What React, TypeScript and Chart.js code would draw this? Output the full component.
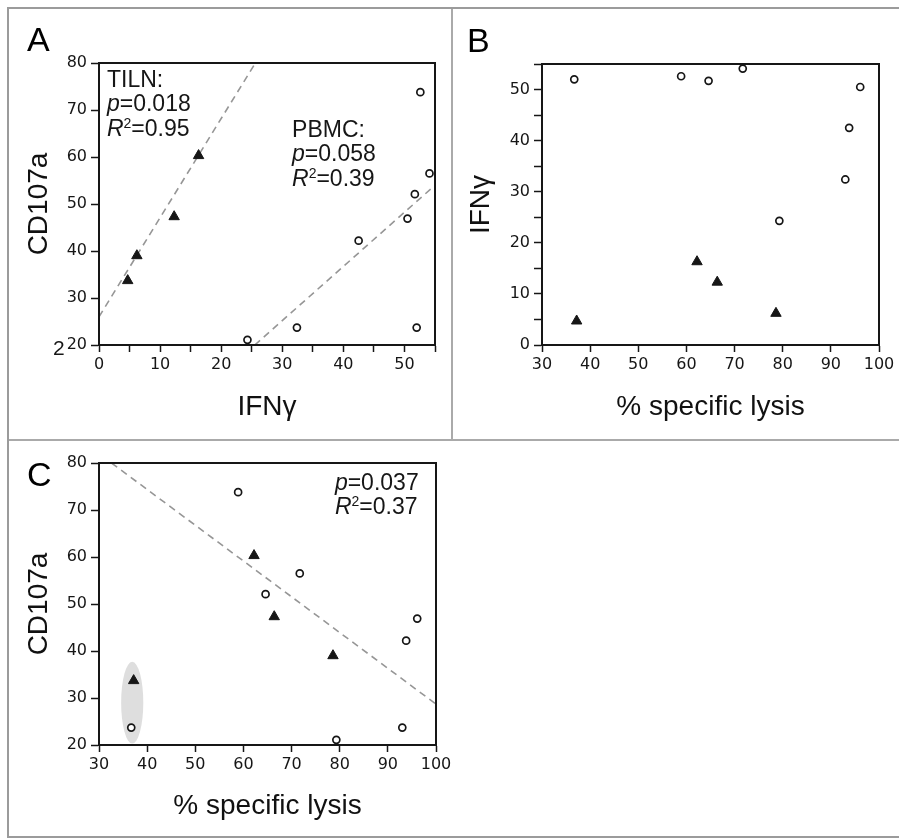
import React, { useEffect, useRef } from 'react';
import { Chart, registerables } from 'chart.js';
Chart.register(...registerables);

// ---------- data ----------
// TILN samples (filled triangles)
const tilnLysis = [37.2, 62.2, 66.4, 78.6];
const tilnIFNg = [4.7, 16.3, 12.3, 6.2];
const tilnCD107a = [33.7, 60.3, 47.3, 39.0];
// PBMC samples (open circles)
const pbmcLysis = [36.7, 58.9, 64.6, 71.7, 79.3, 93.0, 93.8, 96.1];
const pbmcIFNg = [52.0, 52.6, 51.7, 54.1, 24.3, 32.4, 42.5, 50.5];
const pbmcCD107a = [23.7, 73.8, 52.1, 56.5, 21.1, 23.7, 42.2, 46.9];
// regression lines (end points)
const fitTilnIFNg = [0, 25.6];
const fitTilnCD107a = [26.0, 80];
const fitPbmcIFNg = [25.5, 55];
const fitPbmcCD107a = [20, 54.0];
const fitLysisX = [32.6, 100];
const fitLysisCD107a = [80, 28.7];
// highlighted pair in panel C (centre and half-extent)
const ellipseCenter = [36.9, 29.0];
const ellipseHalf = [2.3, 8.7];
// axis ranges / ticks
const ifngAxisA = { min: 0, max: 55, step: 5 };
const cd107aAxis = { min: 20, max: 80, step: 10 };
const lysisAxis = { min: 30, max: 100, step: 10 };
const ifngAxisB = { min: 0, max: 55, step: 5 };
// statistics text
const statsTILN = { label: 'TILN:', p: '0.018', r2: '0.95' };
const statsPBMC = { label: 'PBMC:', p: '0.058', r2: '0.39' };
const statsC = { p: '0.037', r2: '0.37' };

const SANS = "'Liberation Sans', Arial, Helvetica, sans-serif";
const TICKF = "'DejaVu Sans', sans-serif";
const INK = '#161616';

type Seg = { t: string; i?: boolean; s?: boolean };
type Note = { x: number; y: number; lines: Seg[][]; lh: number; size: number };

function statLines(st: { label?: string; p: string; r2: string }): Seg[][] {
  const out: Seg[][] = [];
  if (st.label) out.push([{ t: st.label }]);
  out.push([{ t: 'p', i: true }, { t: '=' + st.p }]);
  out.push([{ t: 'R', i: true }, { t: '2', s: true }, { t: '=' + st.r2 }]);
  return out;
}

function drawRich(ctx: CanvasRenderingContext2D, line: Seg[], x: number, y: number, size: number) {
  let cx = x;
  for (const seg of line) {
    const fs = seg.s ? Math.round(size * 0.62) : size;
    ctx.font = `${seg.i ? 'italic ' : ''}${fs}px ${SANS}`;
    const dy = seg.s ? -size * 0.36 : 0;
    ctx.fillText(seg.t, cx, y + dy);
    cx += ctx.measureText(seg.t).width;
  }
}

type DecorCfg = {
  letter: string;
  letterX: number;
  letterY: number;
  notes: Note[];
  ellipse?: boolean;
  extraTwo?: boolean;
};

function makeDecor(cfg: DecorCfg) {
  return {
    id: 'decor',
    beforeDatasetsDraw(chart: any) {
      if (!cfg.ellipse) return;
      const { ctx, scales } = chart;
      const cx = scales.x.getPixelForValue(ellipseCenter[0]);
      const cy = scales.y.getPixelForValue(ellipseCenter[1]);
      const rx = Math.abs(scales.x.getPixelForValue(ellipseCenter[0] + ellipseHalf[0]) - cx);
      const ry = Math.abs(scales.y.getPixelForValue(ellipseCenter[1] + ellipseHalf[1]) - cy);
      ctx.save();
      ctx.fillStyle = '#dedede';
      ctx.beginPath();
      ctx.ellipse(cx, cy, rx, ry, 0, 0, Math.PI * 2);
      ctx.fill();
      ctx.restore();
    },
    afterDraw(chart: any) {
      const { ctx, chartArea: a, scales } = chart;
      ctx.save();
      ctx.strokeStyle = INK;
      ctx.lineWidth = 2;
      ctx.strokeRect(a.left, a.top, a.right - a.left, a.bottom - a.top);
      ctx.fillStyle = '#000';
      ctx.textAlign = 'left';
      ctx.textBaseline = 'alphabetic';
      ctx.font = `34px ${SANS}`;
      ctx.fillText(cfg.letter, cfg.letterX, cfg.letterY);
      ctx.fillStyle = INK;
      for (const n of cfg.notes) {
        const px = scales.x.getPixelForValue(n.x);
        const py = scales.y.getPixelForValue(n.y);
        n.lines.forEach((ln, k) => drawRich(ctx, ln, px, py + k * n.lh, n.size));
      }
      if (cfg.extraTwo) {
        ctx.font = `21px ${SANS}`;
        ctx.fillText('2', a.left - 46, scales.y.getPixelForValue(cd107aAxis.min) + 10);
      }
      ctx.restore();
    },
  };
}

const pts = (xs: number[], ys: number[]) => xs.map((x, i) => ({ x, y: ys[i] }));

const triangleDs = (data: any[]) => ({
  data,
  pointStyle: 'triangle',
  pointRadius: 6,
  pointBackgroundColor: INK,
  pointBorderColor: INK,
  pointBorderWidth: 1,
  showLine: false,
  clip: false as any,
});
const circleDs = (data: any[]) => ({
  data,
  pointStyle: 'circle',
  pointRadius: 3.5,
  pointBackgroundColor: '#fff',
  pointBorderColor: INK,
  pointBorderWidth: 1.7,
  showLine: false,
  clip: false as any,
});
const fitDs = (data: any[]) => ({
  data,
  showLine: true,
  pointRadius: 0,
  borderColor: '#969696',
  borderWidth: 1.6,
  borderDash: [7, 5],
  fill: false,
});

type AxisR = { min: number; max: number; step: number };

function axis(
  r: AxisR,
  title: string,
  horizontal: boolean,
  fitSize: number,
  titlePad: number
) {
  return {
    type: 'linear',
    position: horizontal ? 'bottom' : 'left',
    min: r.min,
    max: r.max,
    afterFit: (s: any) => {
      if (horizontal) s.height = fitSize;
      else s.width = fitSize;
    },
    ticks: {
      stepSize: r.step,
      autoSkip: false,
      maxRotation: 0,
      padding: horizontal ? 3 : 4,
      color: INK,
      font: { family: TICKF, size: 16 },
      callback: (v: any) => (Number(v) % 10 === 0 ? String(v) : ''),
    },
    grid: {
      display: true,
      drawOnChartArea: false,
      drawTicks: true,
      tickLength: horizontal ? 7 : 8,
      tickColor: INK,
      tickWidth: 1.5,
    },
    border: { display: true, color: INK, width: 2 },
    title: {
      display: true,
      text: title,
      color: '#111',
      font: { family: SANS, size: 28 },
      padding: horizontal ? { top: 0, bottom: titlePad } : { top: titlePad, bottom: 0 },
    },
  };
}

type PanelCfg = {
  left: number;
  top: number;
  width: number;
  height: number;
  build: () => any;
};

function Panel({ cfg }: { cfg: PanelCfg }) {
  const ref = useRef<HTMLCanvasElement | null>(null);
  useEffect(() => {
    if (!ref.current) return;
    const chart = new Chart(ref.current, cfg.build());
    return () => chart.destroy();
  }, []);
  return (
    <canvas
      ref={ref}
      width={cfg.width}
      height={cfg.height}
      style={{ position: 'absolute', left: cfg.left, top: cfg.top, width: cfg.width, height: cfg.height }}
    />
  );
}

const baseOptions = (padding: any, scales: any) => ({
  responsive: false,
  animation: false,
  devicePixelRatio: 1,
  layout: { padding },
  plugins: { legend: { display: false }, tooltip: { enabled: false } },
  scales,
});

const panelA: PanelCfg = {
  left: 9,
  top: 9,
  width: 443,
  height: 430,
  build: () => ({
    type: 'scatter',
    data: {
      datasets: [
        triangleDs(pts(tilnIFNg, tilnCD107a)),
        circleDs(pts(pbmcIFNg, pbmcCD107a)),
        fitDs(pts(fitTilnIFNg, fitTilnCD107a)),
        fitDs(pts(fitPbmcIFNg, fitPbmcCD107a)),
      ],
    },
    options: baseOptions(
      { left: 0, top: 54, right: 17, bottom: 0 },
      {
        x: axis(ifngAxisA, 'IFNγ', true, 94, 15),
        y: axis(cd107aAxis, 'CD107a', false, 90, 13),
      }
    ),
    plugins: [
      makeDecor({
        letter: 'A',
        letterX: 18,
        letterY: 42,
        extraTwo: true,
        notes: [
          { x: 1.3, y: 74.9, lines: statLines(statsTILN), lh: 24.5, size: 23 },
          { x: 31.6, y: 64.3, lines: statLines(statsPBMC), lh: 24.5, size: 23 },
        ],
      }),
    ],
  }),
};

const panelB: PanelCfg = {
  left: 453,
  top: 9,
  width: 446,
  height: 430,
  build: () => ({
    type: 'scatter',
    data: {
      datasets: [
        triangleDs(pts(tilnLysis, tilnIFNg)),
        circleDs(pts(pbmcLysis, pbmcIFNg)),
      ],
    },
    options: baseOptions(
      { left: 0, top: 55, right: 20, bottom: 0 },
      {
        x: axis(lysisAxis, '% specific lysis', true, 94, 15),
        y: axis(ifngAxisB, 'IFNγ', false, 89, 11),
      }
    ),
    plugins: [makeDecor({ letter: 'B', letterX: 14, letterY: 43, notes: [] })],
  }),
};

const panelC: PanelCfg = {
  left: 9,
  top: 441,
  width: 460,
  height: 395,
  build: () => ({
    type: 'scatter',
    data: {
      datasets: [
        triangleDs(pts(tilnLysis, tilnCD107a)),
        circleDs(pts(pbmcLysis, pbmcCD107a)),
        fitDs(pts(fitLysisX, fitLysisCD107a)),
      ],
    },
    options: baseOptions(
      { left: 0, top: 22, right: 33, bottom: 0 },
      {
        x: axis(lysisAxis, '% specific lysis', true, 91, 13),
        y: axis(cd107aAxis, 'CD107a', false, 90, 13),
      }
    ),
    plugins: [
      makeDecor({
        letter: 'C',
        letterX: 18,
        letterY: 45,
        ellipse: true,
        notes: [{ x: 79.0, y: 74.3, lines: statLines(statsC), lh: 24, size: 23 }],
      }),
    ],
  }),
};

const LINE = '#9b9b9b';

export default function App() {
  return (
    <div style={{ position: 'absolute', left: 0, top: 0, width: 899, height: 838, background: '#fff', overflow: 'hidden' }}>
      <div style={{ position: 'absolute', left: 7, top: 7, width: 892, height: 2, background: LINE }} />
      <div style={{ position: 'absolute', left: 7, top: 7, width: 2, height: 831, background: LINE }} />
      <div style={{ position: 'absolute', left: 7, top: 836, width: 892, height: 2, background: LINE }} />
      <div style={{ position: 'absolute', left: 451, top: 9, width: 2, height: 431, background: '#aaa' }} />
      <div style={{ position: 'absolute', left: 9, top: 439, width: 890, height: 2, background: '#aaa' }} />
      <Panel cfg={panelA} />
      <Panel cfg={panelB} />
      <Panel cfg={panelC} />
    </div>
  );
}
